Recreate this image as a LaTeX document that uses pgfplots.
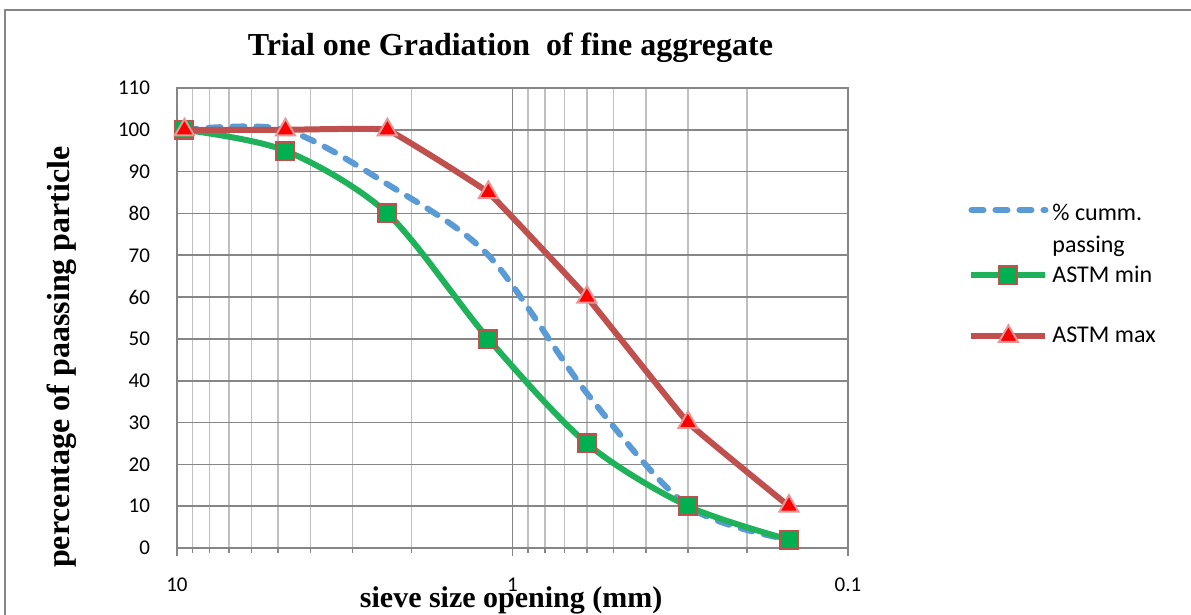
\documentclass[border=0pt]{standalone}
\usepackage{pgfplots}
\pgfplotsset{compat=1.18}
\usepackage{fontspec}
\setmainfont{Liberation Serif}
\newfontfamily\calibri{Carlito}
\definecolor{gridmaj}{HTML}{868686}
\definecolor{gridmin}{HTML}{BFBFBF}
\definecolor{cumblue}{HTML}{5B9BD5}
\definecolor{mingreen}{HTML}{1FB25A}
\definecolor{maxred}{HTML}{C0504D}
\definecolor{markgreen}{HTML}{00B050}
\definecolor{pinkedge}{HTML}{E69696}
\begin{document}
\begin{tikzpicture}
\useasboundingbox (0pt,0pt) rectangle (595.5pt,307.5pt);
\draw[gridmaj, line width=0.6pt] (2.5pt,-10pt) -- (2.5pt,302.5pt) -- (610pt,302.5pt);
\begin{axis}[
  at={(88.5pt,33.5pt)}, anchor=south west,
  scale only axis, width=335.5pt, height=230pt,
  xmode=log, x dir=reverse,
  xmin=0.1, xmax=10, ymin=0, ymax=110,
  ytick={0,10,...,110},
  xtick={0.1,1,10}, xticklabels={0.1,1,10},
  minor xtick={0.2,0.3,0.4,0.5,0.6,0.7,0.8,0.9,2,3,4,5,6,7,8,9},
  xmajorgrids=true, xminorgrids=true, ymajorgrids=true,
  major grid style={gridmaj, line width=0.8pt},
  minor grid style={gridmin, line width=0.8pt},
  axis line style={gridmaj, line width=0.8pt},
  tick style={gridmaj, line width=0.8pt},
  tick align=outside, major tick length=4pt, minor tick length=2.5pt,
  xtick pos=bottom,
  ytick style={draw=none},
  /pgf/number format/assume math mode=true,
  xticklabel style={font=\calibri\fontsize{10.5}{12}\selectfont, yshift=-7.5pt},
  yticklabel style={font=\calibri\fontsize{10.5}{12}\selectfont, xshift=-6pt},
  title={Trial one Gradiation\ \ of fine aggregate},
  title style={at={(axis description cs:0.497,1.062)}, anchor=center, font=\bfseries\fontsize{16}{19}\selectfont},
  xlabel={sieve size opening (mm)},
  xlabel style={at={(axis description cs:0.498,-0.113)}, anchor=center, font=\bfseries\fontsize{15}{18}\selectfont},
  ylabel={percentage of paassing particle},
  ylabel style={at={(axis description cs:-0.171,0.415)}, anchor=center, font=\bfseries\fontsize{16}{19}\selectfont},
  legend style={at={(axis description cs:1.17,0.7815)}, anchor=north west, draw=none, fill=none,
    font=\calibri\fontsize{12}{14}\selectfont, row sep=17pt,
    /tikz/every odd column/.append style={column sep=0pt}},
  legend cell align=left,
  legend image code/.code={\draw[mark repeat=2,mark phase=2,#1] plot coordinates {(0pt,0pt) (18.5pt,0pt) (37pt,0pt)};},
]
\addplot[cumblue, line width=3pt, dash pattern=on 6pt off 6pt, line cap=round, smooth, tension=0.5] coordinates {
(9.5,100) (4.75,100) (2.36,87) (1.18,70) (0.6,37) (0.3,10) (0.15,2)};
\addlegendentry{\raisebox{0pt}[11.8pt][4.2pt]{\begin{tabular}[t]{@{}l@{}}\% cumm.\\[2pt]passing\end{tabular}}}
\addplot[mingreen, line width=3pt, smooth, tension=0.5, mark=square*, mark size=4.5pt,
  mark options={solid, fill=markgreen, draw=maxred, line width=1pt}] coordinates {
(9.5,100) (4.75,95) (2.36,80) (1.18,50) (0.6,25) (0.3,10) (0.15,2)};
\addlegendentry{ASTM min}
\addplot[maxred, line width=3pt, smooth, tension=0.12, mark=triangle*, mark size=5.5pt,
  mark options={solid, fill=red, draw=pinkedge, line width=1pt}] coordinates {
(9.5,100) (4.75,100) (2.36,100) (1.18,85) (0.6,60) (0.3,30) (0.15,10)};
\addlegendentry{ASTM max}
\end{axis}
\end{tikzpicture}
\end{document}
